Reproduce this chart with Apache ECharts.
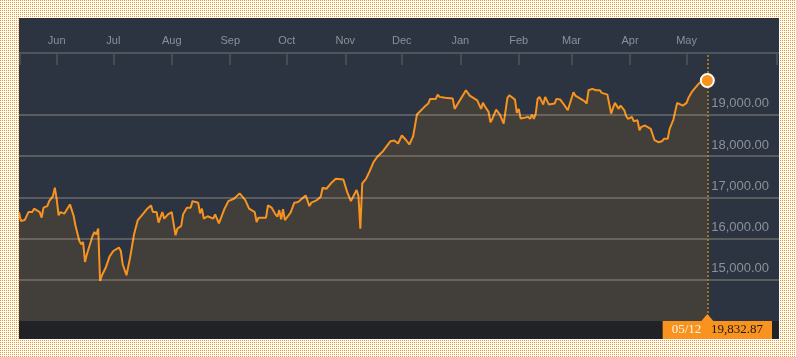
<!DOCTYPE html>
<html>
<head>
<meta charset="utf-8">
<script src="https://cdn.jsdelivr.net/npm/echarts@6/dist/echarts.min.js"></script>
<style>
  html, body { margin: 0; padding: 0; }
  body { width: 796px; height: 357px; overflow: hidden; position: relative; background-color: #ffffff; }
  #chart { position: absolute; left: 19px; top: 18px; width: 760px; height: 321px; background: #2b3440; }
</style>
</head>
<body>
<div id="chart"></div>
<script>
// ---- data ----
const dates = [
  '2016-05-12','2016-05-13','2016-05-15','2016-05-16','2016-05-17','2016-05-19','2016-05-20','2016-05-21','2016-05-23','2016-05-24',
  '2016-05-25','2016-05-27','2016-05-28','2016-05-30','2016-05-31','2016-06-01','2016-06-02','2016-06-03','2016-06-05','2016-06-06',
  '2016-06-08','2016-06-09','2016-06-10','2016-06-11','2016-06-13','2016-06-14','2016-06-15','2016-06-16','2016-06-17','2016-06-20',
  '2016-06-21','2016-06-22','2016-06-23','2016-06-24','2016-06-25','2016-06-27','2016-06-28','2016-06-29','2016-06-30','2016-07-01',
  '2016-07-04','2016-07-05','2016-07-06','2016-07-08','2016-07-10','2016-07-12','2016-07-14','2016-07-17','2016-07-19','2016-07-20',
  '2016-07-21','2016-07-22','2016-07-24','2016-07-25','2016-07-27','2016-07-28','2016-07-30','2016-08-01','2016-08-03','2016-08-04',
  '2016-08-06','2016-08-07','2016-08-09','2016-08-11','2016-08-12','2016-08-15','2016-08-16','2016-08-17','2016-08-18','2016-08-20',
  '2016-08-21','2016-08-23','2016-08-24','2016-08-26','2016-08-29','2016-08-31','2016-09-03','2016-09-06','2016-09-09','2016-09-11',
  '2016-09-12','2016-09-14','2016-09-15','2016-09-16','2016-09-20','2016-09-21','2016-09-23','2016-09-25','2016-09-26','2016-09-27',
  '2016-09-28','2016-09-29','2016-09-30','2016-10-01','2016-10-03','2016-10-05','2016-10-07','2016-10-09','2016-10-11','2016-10-13',
  '2016-10-14','2016-10-17','2016-10-19','2016-10-20','2016-10-22','2016-10-23','2016-10-25','2016-10-26','2016-10-27','2016-10-28',
  '2016-10-31','2016-11-01','2016-11-02','2016-11-04','2016-11-07','2016-11-08','2016-11-09','2016-11-10','2016-11-12','2016-11-14',
  '2016-11-15','2016-11-16','2016-11-17','2016-11-18','2016-11-21','2016-11-25','2016-11-27','2016-11-29','2016-11-30','2016-12-01',
  '2016-12-03','2016-12-05','2016-12-07','2016-12-09','2016-12-13','2016-12-15','2016-12-16','2016-12-19','2016-12-20','2016-12-21',
  '2016-12-24','2016-12-28','2016-12-29','2016-12-30','2017-01-04','2017-01-06','2017-01-10','2017-01-11','2017-01-12','2017-01-13',
  '2017-01-14','2017-01-16','2017-01-17','2017-01-18','2017-01-20','2017-01-22','2017-01-24','2017-01-26','2017-01-27','2017-01-30',
  '2017-01-31','2017-02-01','2017-02-02','2017-02-04','2017-02-06','2017-02-07','2017-02-08','2017-02-09','2017-02-10','2017-02-11',
  '2017-02-12','2017-02-13','2017-02-14','2017-02-15','2017-02-17','2017-02-20','2017-02-21','2017-02-23','2017-02-25','2017-02-27',
  '2017-02-28','2017-03-02','2017-03-03','2017-03-05','2017-03-08','2017-03-09','2017-03-10','2017-03-12','2017-03-14','2017-03-16',
  '2017-03-17','2017-03-20','2017-03-21','2017-03-22','2017-03-23','2017-03-24','2017-03-26','2017-03-27','2017-03-29','2017-03-30',
  '2017-03-31','2017-04-02','2017-04-03','2017-04-05','2017-04-06','2017-04-07','2017-04-09','2017-04-10','2017-04-12','2017-04-13',
  '2017-04-14','2017-04-16','2017-04-18','2017-04-19','2017-04-21','2017-04-22','2017-04-24','2017-04-26','2017-04-27','2017-04-29',
  '2017-05-01','2017-05-02','2017-05-04','2017-05-07','2017-05-10','2017-05-12'
];
const values = [
  16640,16424,16448,16465,16642,16642,16724,16690,16642,16506,
  16748,16787,16908,17029,17233,16949,16562,16642,16603,16586,
  16828,16690,16545,16303,15940,15860,15916,15431,15618,16061,
  16158,16102,16240,14971,15110,15296,15335,15562,15594,15698,
  15780,15698,15376,15110,15562,16102,16448,16610,16724,16690,
  16804,16642,16642,16385,16642,16482,16586,16642,16078,16240,
  16303,16586,16748,16748,16908,16870,16610,16724,16482,16540,
  16586,16482,16586,16368,16724,16908,16966,17095,16932,16724,
  16748,16642,16400,16506,16506,16804,16748,16586,16530,16690,
  16465,16710,16448,16506,16627,16870,16885,16966,17046,16787,
  16870,16932,17015,17233,17208,17233,17368,17337,17451,17416,
  17433,17433,17131,16908,17179,17034,16240,17337,17446,17639,
  17676,17852,17877,17983,18119,18361,18378,18305,18322,18499,
  18402,18281,18482,19007,19194,19274,19387,19387,19491,19436,
  19412,19395,19145,19111,19596,19467,19353,19305,19145,19291,
  19208,19073,18821,18903,19128,19007,18789,19412,19475,19370,
  19048,19145,18910,18927,18952,18903,19007,18903,19031,19387,
  19436,19467,19249,19436,19249,19274,19387,19370,19249,19111,
  19111,19547,19467,19412,19329,19274,19596,19630,19596,19596,
  19533,19491,19467,19031,19169,19291,19145,19225,19111,18966,
  18903,18952,18845,18869,18627,18709,18741,18789,18661,18523,
  18385,18337,18361,18419,18419,18661,18886,19291,19305,19225,
  19291,19412,19571,19734,19860,19832.87
];
const yTicks = [15000, 16000, 17000, 18000, 19000];
const monthTicks = ['2016-06-01','2016-07-01','2016-08-01','2016-09-01','2016-10-01','2016-11-01',
                    '2016-12-01','2017-01-01','2017-02-01','2017-03-01','2017-04-01','2017-05-01'];
const monthNames = ['Jan','Feb','Mar','Apr','May','Jun','Jul','Aug','Sep','Oct','Nov','Dec'];
const xRange = ['2016-05-12', '2017-06-19'];
const yRange = [14000, 20500];

// ---- page background: 1px orange dot in every 2x2 cell ----
(function () {
  const c = document.createElement('canvas');
  c.width = 2; c.height = 2;
  const g = c.getContext('2d');
  g.fillStyle = '#ffffff'; g.fillRect(0, 0, 2, 2);
  g.fillStyle = '#f7941d'; g.fillRect(0, 0, 1, 1);
  document.body.style.backgroundImage = 'url(' + c.toDataURL() + ')';
  document.body.style.backgroundSize = '2px 2px';
  document.body.style.imageRendering = 'pixelated';
})();

// ---- chart ----
const ORANGE = '#f7931e';
const DAY = 86400000;
const toTime = s => new Date(s + 'T00:00:00').getTime();
const lastDate = dates[dates.length - 1];
const lastValue = values[values.length - 1];
const fmtNum = v => v.toLocaleString('en-US', { minimumFractionDigits: 2, maximumFractionDigits: 2 });
const lastLabel = (() => {
  const p = lastDate.split('-');
  return '{a|' + p[1] + '/' + p[2] + '}   {b|' + fmtNum(lastValue) + '}';
})();
const tickTimes = monthTicks.map(toTime);
const edgeTimes = [toTime(xRange[0]) + DAY / 2, toTime(xRange[1]) - DAY];

const chart = echarts.init(document.getElementById('chart'), null, { renderer: 'canvas' });
chart.setOption({
  animation: false,
  backgroundColor: '#2b3440',
  grid: { left: 0, right: 0, top: 35, bottom: 18, containLabel: false },
  graphic: [{
    type: 'rect', left: 0, bottom: 0, z: 0,
    shape: { width: 760, height: 18 },
    style: { fill: '#212225' }
  }],
  xAxis: {
    type: 'value',
    position: 'top',
    min: toTime(xRange[0]), max: toTime(xRange[1]),
    axisLine: { show: true, lineStyle: { color: '#4f555c', width: 2 } },
    axisTick: {
      show: true, inside: true, length: 12,
      customValues: edgeTimes.concat(tickTimes),
      lineStyle: { color: '#4f555c', width: 1.5 }
    },
    axisLabel: {
      color: '#8b9199', fontSize: 11, margin: 7,
      customValues: tickTimes,
      showMinLabel: true, showMaxLabel: true,
      fontFamily: 'Liberation Sans, Arial, sans-serif',
      formatter: v => monthNames[new Date(v).getMonth()]
    },
    splitLine: { show: false },
    axisPointer: { show: false }
  },
  yAxis: {
    type: 'value',
    position: 'right',
    min: yRange[0], max: yRange[1], interval: 1000,
    axisLine: { show: false },
    axisTick: { show: false },
    splitLine: { show: false },
    axisLabel: {
      inside: true, margin: 10,
      color: '#8b9199', fontSize: 13,
      fontFamily: 'Liberation Sans, Arial, sans-serif',
      verticalAlign: 'bottom', lineHeight: 14, padding: [0, 0, 4, 0],
      formatter: v => (yTicks.indexOf(v) >= 0 ? fmtNum(v) : '')
    }
  },
  series: [{
    type: 'line',
    data: dates.map((d, i) => [toTime(d), values[i]]),
    showSymbol: false,
    symbol: 'none',
    lineStyle: { color: ORANGE, width: 2 },
    itemStyle: { color: ORANGE },
    areaStyle: { color: 'rgba(247,147,30,0.16)', origin: 'start' },
    z: 2,
    markLine: {
      silent: true,
      symbol: ['none', 'none'],
      label: { show: false },
      data: yTicks.map(v => ({ yAxis: v, lineStyle: { color: 'rgba(255,232,200,0.30)', width: 1.5, type: 'solid' } }))
        .concat([{ xAxis: toTime(lastDate), lineStyle: { color: '#c8861e', width: 1.5, type: [2, 2] } }])
    },
    markPoint: {
      silent: true,
      data: [
        {
          coord: [toTime(lastDate), yRange[0]],
          symbol: 'triangle', symbolSize: [12, 7], symbolOffset: [0, -3.5],
          itemStyle: { color: ORANGE },
          label: {
            show: true, position: 'bottom', distance: 0, offset: [10, 0],
            formatter: lastLabel,
            backgroundColor: ORANGE,
            padding: [2, 9, 2, 9],
            lineHeight: 14,
            fontFamily: 'Liberation Serif, Times New Roman, serif', fontSize: 13,
            rich: {
              a: { color: '#fff4e4', fontFamily: 'Liberation Serif, serif', fontSize: 13, lineHeight: 14 },
              b: { color: '#1b1b1b', fontFamily: 'Liberation Serif, serif', fontSize: 13, lineHeight: 14 }
            }
          }
        },
        {
          coord: [toTime(lastDate), lastValue],
          symbol: 'circle', symbolSize: 13,
          itemStyle: { color: ORANGE, borderColor: '#ffffff', borderWidth: 2 },
          label: { show: false }
        }
      ]
    }
  }]
});
</script>
</body>
</html>
